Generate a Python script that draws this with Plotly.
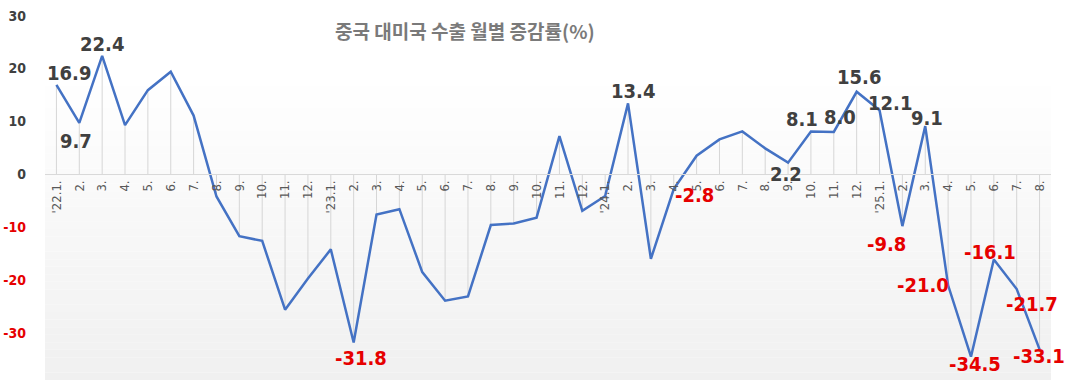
import plotly.graph_objects as go

# ---- data ----
categories = ["'22.1.", "2.", "3.", "4.", "5.", "6.", "7.", "8.", "9.", "10.", "11.", "12.",
              "'23.1.", "2.", "3.", "4.", "5.", "6.", "7.", "8.", "9.", "10.", "11.", "12.",
              "'24.1.", "2.", "3.", "4.", "5.", "6.", "7.", "8.", "9.", "10.", "11.", "12.",
              "'25.1.", "2.", "3.", "4.", "5.", "6.", "7.", "8."]
values = [16.9, 9.7, 22.4, 9.3, 15.9, 19.4, 11.1, -4.2, -11.7, -12.6, -25.6, -19.7,
          -14.2, -31.8, -7.6, -6.6, -18.5, -23.9, -23.1, -9.6, -9.3, -8.2, 7.2, -6.9,
          -4.1, 13.4, -16.0, -2.8, 3.5, 6.6, 8.1, 4.9, 2.2, 8.1, 8.0, 15.6,
          12.1, -9.8, 9.1, -21.0, -34.5, -16.1, -21.7, -33.1]
labeled_idx = [0, 1, 2, 13, 25, 27, 32, 33, 34, 35, 36, 37, 38, 39, 40, 41, 42, 43]
y_ticks = [-30, -20, -10, 0, 10, 20, 30]
title_text = "중국 대미국 수출 월별 증감률(%)"

# ---- style ----
W, H = 1070, 380
ML, MR, MT, MB = 45, 19, 0, 0
Y_MIN, Y_MAX = -38.9, 32.95
LINE_COLOR = "#4472c4"
POS_COLOR = "#404040"
NEG_COLOR = "#e60000"
COND = "'DejaVu Sans Condensed', 'Liberation Sans Narrow', sans-serif"

# label offsets (xshift, yshift) in px
label_offsets = {0: (13, 12), 1: (-3, -18), 2: (0, 12), 13: (7, -16), 25: (5, 12),
                 27: (21, -6), 32: (-2, -11), 33: (-9, 12), 34: (6, 15), 35: (2, 15),
                 36: (10, 7), 37: (-16, -18), 38: (2, 8), 39: (-25, 0), 40: (4, -7),
                 41: (-4, 7), 42: (15, -15), 43: (-1, -7)}

x_idx = list(range(len(categories)))

fig = go.Figure()

# drop lines from zero to each point
dx, dy = [], []
for i, v in zip(x_idx, values):
    dx += [i, i, None]
    dy += [0, v, None]
fig.add_trace(go.Scatter(x=dx, y=dy, mode="lines",
                         line=dict(color="#d6d6d6", width=1),
                         hoverinfo="skip", showlegend=False))

fig.add_trace(go.Scatter(x=x_idx, y=values, mode="lines",
                         line=dict(color=LINE_COLOR, width=2.5),
                         showlegend=False, hoverinfo="x+y"))

# background gradient bands (plot area decoration)
plot_h = H - MT - MB
plot_w = W - ML - MR
grad_top = (H - 78) / plot_h
n_bands = 40
shapes = []
for k in range(n_bands):
    y0 = grad_top * k / n_bands
    y1 = grad_top * (k + 1) / n_bands
    t = 1 - (k + 0.5) / n_bands  # 1 at bottom, 0 at top
    g = int(round(255 - 15 * t))
    shapes.append(dict(type="rect", xref="paper", yref="paper", x0=0, x1=1,
                       y0=y0, y1=y1, fillcolor=f"rgb({g},{g},{g})",
                       line=dict(width=0), layer="below"))

annotations = []
for i in labeled_idx:
    v = values[i]
    xs, ys = label_offsets[i]
    annotations.append(dict(x=i, y=v, xref="x", yref="y", text=f"{v:.1f}",
                            showarrow=False, xshift=xs, yshift=ys,
                            font=dict(family=COND, size=20,
                                      color=NEG_COLOR if v < 0 else POS_COLOR,
                                      weight="bold")))
annotations.append(dict(x=(465 - ML) / plot_w, y=(H - 30 - MB) / plot_h,
                        xref="paper", yref="paper", text=title_text,
                        showarrow=False, xanchor="center", yanchor="middle",
                        font=dict(family="'Noto Sans CJK KR', sans-serif", size=19,
                                  color="#7a7a7a", weight="bold")))

tick_text = [f'<span style="color:{NEG_COLOR}">{t}</span>' if t < 0 else str(t)
             for t in y_ticks]

zero_pos = (0 - Y_MIN) / (Y_MAX - Y_MIN)

fig.update_layout(
    width=W, height=H,
    margin=dict(l=ML, r=MR, t=MT, b=MB, pad=0, autoexpand=False),
    paper_bgcolor="white", plot_bgcolor="white",
    shapes=shapes, annotations=annotations,
    showlegend=False,
    xaxis=dict(range=[-0.5, len(categories) - 0.5], tickmode="array",
               tickvals=x_idx, ticktext=categories, tickangle=-90,
               anchor="free", position=zero_pos, automargin=False,
               showline=True, linecolor="#d9d9d9", linewidth=1,
               showgrid=False, zeroline=False, ticks="",
               tickfont=dict(family=COND, size=13, color="#595959")),
    yaxis=dict(range=[Y_MIN, Y_MAX], tickmode="array", tickvals=y_ticks,
               ticktext=tick_text, showgrid=False, zeroline=False, automargin=False,
               showline=False, ticks="", ticklabelstandoff=18,
               tickfont=dict(family=COND, size=14, color=POS_COLOR, weight="bold")),
)

fig.write_html("out.html", config={"displayModeBar": False},
               post_script="document.body.style.margin='0';document.body.style.padding='0';")
